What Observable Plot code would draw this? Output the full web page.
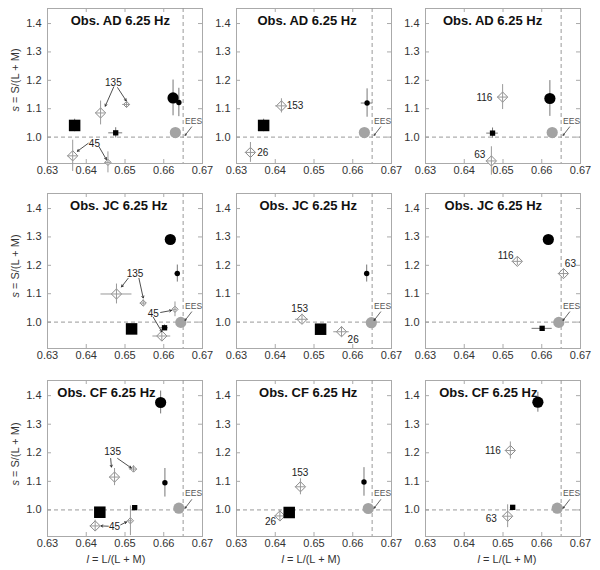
<!DOCTYPE html>
<html><head><meta charset="utf-8">
<script src="https://cdn.jsdelivr.net/npm/d3@7"></script>
<script src="https://cdn.jsdelivr.net/npm/@observablehq/plot@0.6"></script>
<style>
body{margin:0;background:#fff;font-family:"Liberation Sans",Arial,Helvetica,sans-serif;}
#chart{position:relative;width:600px;height:570px;overflow:hidden;background:#fff;}
.cell{position:absolute;}
.ylab{position:absolute;font-size:11px;color:#333;white-space:nowrap;transform:translate(-50%,-50%) rotate(-90deg);}
.xlab{position:absolute;font-size:11px;color:#333;white-space:nowrap;transform:translate(-50%,-50%);}
</style></head><body><div id="chart"></div>
<script>
// ---------- data ----------
const titles = ["Obs. AD 6.25 Hz","Obs. AD 6.25 Hz","Obs. AD 6.25 Hz",
                "Obs. JC 6.25 Hz","Obs. JC 6.25 Hz","Obs. JC 6.25 Hz",
                "Obs. CF 6.25 Hz","Obs. CF 6.25 Hz","Obs. CF 6.25 Hz"];
const titleX = [0.6488,0.6482,0.6473,0.6484,0.6485,0.6475,0.6452,0.6485,0.6462];
const titleY = [1.41,1.41,1.41,1.41,1.41,1.41,1.409,1.409,1.409];
const xTicks = [0.63,0.64,0.65,0.66,0.67];
const yTicks = [1.0,1.1,1.2,1.3,1.4];
const xDomain = [0.63,0.67];
const yDomain = [0.907,1.453];
const eesL = 0.665, eesS = 1.0;
const eesLabel = [0.6677, 1.057, "EES"];
const eesArrow = [0.6672, 1.036, 0.6655, 1.006];

// [panel, x, y, yerr]
const bigCircles = [
  [0,0.6624,1.138,0.063],[2,0.6621,1.136,0.063],
  [3,0.6617,1.291,0],[5,0.6617,1.291,0],
  [6,0.6592,1.376,0.04],[8,0.6590,1.377,0.035]
];
// [panel, x, y, xerr, yerr]
const smallCircles = [
  [0,0.6639,1.122,0.0006,0.05],[1,0.6637,1.120,0.0015,0.05],
  [3,0.6635,1.171,0.0006,0.03],[4,0.6636,1.171,0.0006,0.03],
  [6,0.6603,1.095,0.0004,0.05],[7,0.6629,1.098,0.0004,0.05]
];
// [panel, x, y, yerr]
const bigSquares = [
  [0,0.6370,1.041,0.022],[1,0.6370,1.041,0.022],
  [3,0.6517,0.976,0.01],[4,0.6517,0.975,0.01],
  [6,0.6435,0.992,0.01],[7,0.6436,0.991,0.01]
];
// [panel, x, y, xerr, yerr]
const smallSquares = [
  [0,0.6476,1.015,0.0018,0.018],[2,0.6473,1.014,0.0015,0.018],
  [3,0.6602,0.980,0.0010,0.01],[5,0.6601,0.978,0.0026,0.005],
  [6,0.6525,1.008,0.0006,0.005],[8,0.6525,1.009,0.0006,0.005]
];
// [panel, x, y]
const eesMeasured = [
  [0,0.6630,1.016],[1,0.6630,1.016],[2,0.6627,1.016],
  [3,0.6644,0.999],[4,0.6648,0.998],[5,0.6644,0.999],
  [6,0.6639,1.006],[7,0.6640,1.005],[8,0.6640,1.006]
];
// [panel, x, y, xerr, yerr]
const bigDiamonds = [
  [0,0.6437,1.085,0.0013,0.042],[0,0.6365,0.934,0.0013,0.055],
  [1,0.6416,1.110,0.0015,0.025],[1,0.6336,0.946,0.0013,0.035],
  [2,0.6499,1.141,0.0013,0.044],[2,0.6470,0.916,0.0013,0.05],
  [3,0.6478,1.099,0.004,0.035],[3,0.6595,0.951,0.0023,0.02],
  [4,0.6469,1.010,0.0017,0.018],[4,0.6571,0.966,0.002,0.018],
  [5,0.6537,1.214,0.0013,0.015],[5,0.6656,1.171,0.0013,0.015],
  [6,0.6473,1.115,0.0013,0.03],[6,0.6423,0.944,0.0013,0.02],
  [7,0.6465,1.081,0.0013,0.028],[7,0.6412,0.979,0.0013,0.02],
  [8,0.6519,1.208,0.0013,0.03],[8,0.6512,0.978,0.0013,0.04]
];
const smallDiamonds = [
  [0,0.6504,1.115,0.001,0.012],[0,0.6456,0.911,0.0008,0.037],
  [3,0.6547,1.067,0.0008,0.012],[3,0.6629,1.045,0.0006,0.026],
  [6,0.6522,1.143,0.001,0.012],[6,0.6514,0.962,0.0006,0.052]
];
// [panel, x, y, text]
const labels = [
  [0,0.6470,1.192,"135"],[0,0.6421,0.976,"45"],
  [1,0.6451,1.109,"153"],[1,0.6368,0.946,"26"],
  [2,0.6452,1.140,"116"],[2,0.6440,0.939,"63"],
  [3,0.6526,1.171,"135"],[3,0.6573,1.029,"45"],
  [4,0.6463,1.046,"153"],[4,0.6601,0.938,"26"],
  [5,0.6507,1.234,"116"],[5,0.6674,1.205,"63"],
  [6,0.6468,1.205,"135"],[6,0.6473,0.941,"45"],
  [7,0.6464,1.130,"153"],[7,0.6388,0.959,"26"],
  [8,0.6474,1.208,"116"],[8,0.6470,0.970,"63"]
];
// [panel, x1, y1, x2, y2]
const arrows = [
  [0,0.6471,1.177,0.6449,1.109],[0,0.6481,1.174,0.6503,1.128],
  [0,0.6405,0.978,0.6377,0.950],[0,0.6433,0.966,0.6452,0.921],
  [3,0.6508,1.154,0.6491,1.124],[3,0.6536,1.154,0.6547,1.085],
  [3,0.6592,1.034,0.6620,1.041],[3,0.6573,1.017,0.6595,0.966],
  [6,0.6463,1.180,0.6465,1.150],[6,0.6481,1.180,0.6516,1.147],
  [6,0.6457,0.943,0.6438,0.944],[6,0.6489,0.948,0.6504,0.958]
];

// ---------- layout ----------
const colLeft = [0, 200, 389];
const colMargin = [47, 36, 36];
const rowTop = [0, 185, 372];
const rowH = [155, 155, 156];
const W = 155;

const chart = document.getElementById("chart");
const inP = i => d => d[0] === i;

for (let i = 0; i < 9; i++) {
  const row = Math.floor(i / 3), col = i % 3;
  const H = rowH[row], ml = colMargin[col];
  const bc = bigCircles.filter(inP(i)), sc = smallCircles.filter(inP(i));
  const bs = bigSquares.filter(inP(i)), ss = smallSquares.filter(inP(i));
  const em = eesMeasured.filter(inP(i));
  const bd = bigDiamonds.filter(inP(i)), sd = smallDiamonds.filter(inP(i));
  const lb = labels.filter(inP(i)), ar = arrows.filter(inP(i));
  const allD = bd.concat(sd);
  const blackX = sc.concat(ss);
  const blackY = bc.map(d => [d[0], d[1], d[2], 0, d[3]]).concat(bs.map(d => [d[0], d[1], d[2], 0, d[3]])).concat(blackX);

  const plot = Plot.plot({
    width: ml + W + 14, height: 8 + H + 22,
    marginLeft: ml, marginRight: 14, marginTop: 8, marginBottom: 22,
    x: {domain: xDomain, ticks: xTicks, tickFormat: d3.format(".2f"), tickSize: 0, tickPadding: 3, label: null},
    y: {domain: yDomain, ticks: yTicks, tickFormat: d3.format(".1f"), tickSize: 0, tickPadding: 6, label: null},
    style: {background: "transparent", overflow: "visible", fontFamily: "Liberation Sans, Arial, sans-serif", fontSize: "11px", color: "#333"},
    marks: [
      Plot.frame({stroke: "#aaa"}),
      Plot.tickX(xTicks, {x: d => d, insetTop: H - 4, stroke: "#aaa"}),
      Plot.tickX(xTicks, {x: d => d, insetBottom: H - 4, stroke: "#aaa"}),
      Plot.tickY(yTicks, {y: d => d, insetRight: W - 4, stroke: "#aaa"}),
      Plot.tickY(yTicks, {y: d => d, insetLeft: W - 4, stroke: "#aaa"}),
      Plot.ruleY([eesS], {y: d => d, stroke: "#999", strokeDasharray: "4,3"}),
      Plot.ruleX([eesL], {x: d => d, stroke: "#999", strokeDasharray: "4,3"}),
      // diamonds
      Plot.dot(bd, {x: d => d[1], y: d => d[2], symbol: "diamond2", r: 4.6, fill: "white", stroke: "#888", strokeWidth: 1}),
      Plot.dot(sd, {x: d => d[1], y: d => d[2], symbol: "diamond2", r: 2.8, fill: "white", stroke: "#888", strokeWidth: 1}),
      Plot.ruleX(allD, {x: d => d[1], y1: d => d[2] - d[4], y2: d => d[2] + d[4], stroke: "#999"}),
      Plot.ruleY(allD, {y: d => d[2], x1: d => d[1] - d[3], x2: d => d[1] + d[3], stroke: "#999"}),
      // black error bars
      Plot.ruleX(blackY.filter(d => d[4] > 0), {x: d => d[1], y1: d => d[2] - d[4], y2: d => d[2] + d[4], stroke: "#777"}),
      Plot.ruleY(blackX.filter(d => d[3] > 0), {y: d => d[2], x1: d => d[1] - d[3], x2: d => d[1] + d[3], stroke: "#777"}),
      // markers
      Plot.dot(em, {x: d => d[1], y: d => d[2], r: 5.6, fill: "#a3a3a3"}),
      Plot.dot(bs, {x: d => d[1], y: d => d[2], symbol: "square", r: 6.5, fill: "black"}),
      Plot.dot(ss, {x: d => d[1], y: d => d[2], symbol: "square", r: 3, fill: "black"}),
      Plot.dot(bc, {x: d => d[1], y: d => d[2], r: 5.6, fill: "black"}),
      Plot.dot(sc, {x: d => d[1], y: d => d[2], r: 2.7, fill: "black"}),
      // annotations
      Plot.arrow(ar, {x1: d => d[1], y1: d => d[2], x2: d => d[3], y2: d => d[4], stroke: "#222", strokeWidth: 0.8, headLength: 4}),
      Plot.text(lb, {x: d => d[1], y: d => d[2], text: d => d[3], fontSize: 10, fill: "#222"}),
      Plot.arrow([eesArrow], {x1: d => d[0], y1: d => d[1], x2: d => d[2], y2: d => d[3], stroke: "#222", strokeWidth: 0.7, headLength: 3.5}),
      Plot.text([eesLabel], {x: d => d[0], y: d => d[1], text: d => d[2], fontSize: 8.5, fill: "#555"}),
      Plot.text([titles[i]], {x: () => titleX[i], y: () => titleY[i], text: d => d, fontSize: 13, fontWeight: "bold", fill: "#111"})
    ]
  });
  const cell = document.createElement("div");
  cell.className = "cell";
  cell.style.left = colLeft[col] + "px";
  cell.style.top = rowTop[row] + "px";
  cell.appendChild(plot);
  chart.appendChild(cell);
}

// axis titles
const yLabelY = [80, 266, 454];
for (const y of yLabelY) {
  const d = document.createElement("div");
  d.className = "ylab";
  d.style.left = "15px"; d.style.top = y + "px";
  d.innerHTML = "<i>s</i> = S/(L + M)";
  chart.appendChild(d);
}
const xLabelX = [116, 311, 507];
for (const x of xLabelX) {
  const d = document.createElement("div");
  d.className = "xlab";
  d.style.left = x + "px"; d.style.top = "559px";
  d.innerHTML = "<i>l</i> = L/(L + M)";
  chart.appendChild(d);
}
</script>
</body></html>
